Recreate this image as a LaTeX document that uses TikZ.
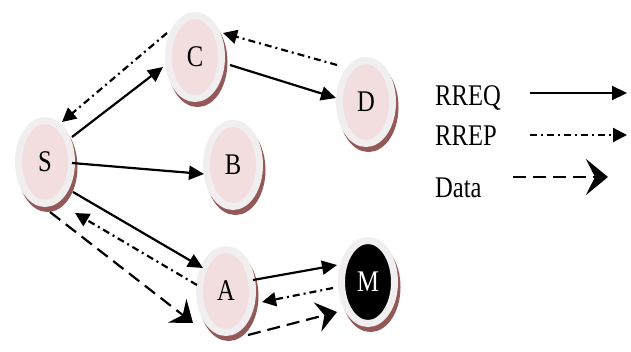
\documentclass[tikz,border=0pt]{standalone}
\usepackage{fontspec}
\setmainfont{Liberation Serif}
\usetikzlibrary{shapes.geometric,arrows.meta,calc}

\definecolor{ringgrey}{HTML}{F0EEEE}
\definecolor{innerpink}{HTML}{F2DEDE}
\definecolor{shadowbrown}{HTML}{935858}

\newcommand{\lbl}[1]{\fontsize{30}{30}\selectfont\scalebox{0.82}[1]{#1}}

\tikzset{
  station/.style={ellipse, minimum width=53pt, minimum height=83pt, inner sep=0pt,
    draw=ringgrey, line width=7pt, fill=innerpink,
    preaction={fill=shadowbrown, draw=shadowbrown, line width=7pt,
      transform canvas={xshift=2.5pt,yshift=-5pt}}},
  rogue/.style={station, fill=black, text=white},
  rreq/.style={line width=2.2pt, -{Triangle[length=15pt,width=14pt]}},
  rrep/.style={line width=2.2pt, dash pattern=on 7pt off 4pt on 2pt off 4pt,
    -{Triangle[length=14pt,width=14pt]}},
  datapath/.style={line width=2.2pt, dash pattern=on 13pt off 7pt,
    -{Stealth[length=20pt,width=30pt,inset=7pt]}},
  legendtxt/.style={anchor=base west, inner sep=0pt},
}

\begin{document}
\begin{tikzpicture}[x=1pt,y=-1pt]
\useasboundingbox[fill=white] (0,0) rectangle (631,351);

% stations
\node[station] (S) at (45,162) {\raisebox{-6pt}{\lbl{S}}};
\node[station] (C) at (195,57) {\raisebox{-6pt}{\lbl{C}}};
\node[station] (B) at (233,165) {\raisebox{-6pt}{\lbl{B}}};
\node[station] (D) at (366,102) {\raisebox{-6pt}{\lbl{D}}};
\node[station] (A) at (226,291) {\raisebox{-6pt}{\lbl{A}}};
\node[rogue]   (M) at (368,282) {\raisebox{-6pt}{\lbl{M}}};

% route requests
\draw[rreq] ($(S)+(27,-25)$) -- ($(C)+(-32,10)$);
\draw[rreq] ($(C)+(35,8)$) -- ($(D)+(-30,-4)$);
\draw[rreq] ($(S)+(27,1)$) -- ($(B)+(-29,9)$);
\draw[rreq] ($(S)+(28,30)$) -- ($(A)+(-23,-23)$);
\draw[rreq] ($(A)+(27,-11)$) -- ($(M)+(-31,-17)$);

% route replies
\draw[rrep] ($(C)+(-28,-24)$) -- ($(S)+(17,-40)$);
\draw[rrep] ($(D)+(-29,-37)$) -- ($(C)+(28,-24)$);
\draw[rrep] ($(A)+(-29,-6)$) -- ($(S)+(30,51)$);
\draw[rrep] ($(M)+(-35,6)$) -- ($(A)+(36,11)$);

% data
\draw[datapath] ($(S)+(5,50)$) -- ($(A)+(-33,32)$);
\draw[datapath] ($(A)+(22,44)$) -- ($(M)+(-31,30)$);

% legend
\node[legendtxt] (lq) at (435,105) {\lbl{RREQ}};
\node[legendtxt] (lp) at (435,145) {\lbl{RREP}};
\node[legendtxt] (ld) at (435,197) {\lbl{Data}};
\coordinate (q1) at (530,93);  \coordinate (q2) at (627,93);
\coordinate (p1) at (530,135); \coordinate (p2) at (627,135);
\coordinate (d1) at (513,177); \coordinate (d2) at (608,177);
\draw[rreq] (q1) -- (q2);
\draw[rrep] (p1) -- (p2);
\draw[datapath, -{Stealth[length=22pt,width=36pt,inset=9pt]}] (d1) -- (d2);
\end{tikzpicture}
\end{document}
